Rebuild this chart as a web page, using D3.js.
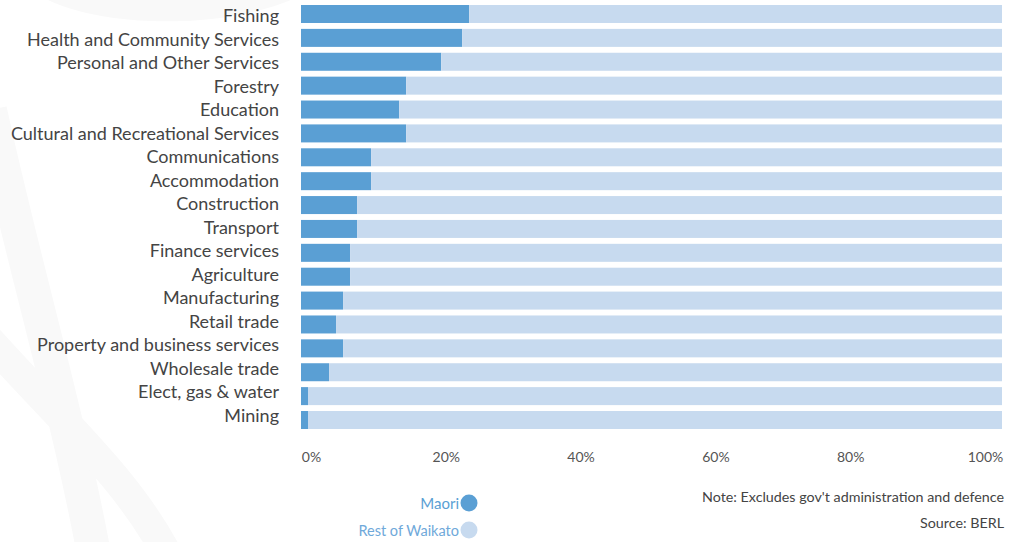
<!DOCTYPE html>
<html><head><meta charset="utf-8">
<script src="https://cdn.jsdelivr.net/npm/d3@7"></script>
<style>
html,body{margin:0;padding:0;background:#fff;}
svg{display:block;font-family:Lato, "Open Sans", sans-serif;}
</style></head>
<body>
<svg id="chart" width="1020" height="542"></svg>
<script>
const categories = ["Fishing","Health and Community Services","Personal and Other Services","Forestry","Education","Cultural and Recreational Services","Communications","Accommodation","Construction","Transport","Finance services","Agriculture","Manufacturing","Retail trade","Property and business services","Wholesale trade","Elect, gas & water","Mining"];
const maori = [24,23,20,15,14,15,10,10,8,8,7,7,6,5,6,4,1,1];
const restOfWaikato = maori.map(v => 100 - v);
const tickValues = [0,20,40,60,80,100];
const tickLabels = ["0%","20%","40%","60%","80%","100%"];
const seriesNames = ["Maori","Rest of Waikato"];
const noteText = "Note: Excludes gov't administration and defence";
const sourceText = "Source: BERL";

const colors = {Maori:"#5a9fd4", "Rest of Waikato":"#c7daef"};
const svg = d3.select("#chart");

// faint background swooshes
const bg = svg.append("g").attr("fill","none").attr("stroke","#f9f9f9");
bg.append("path").attr("stroke-width",22)
  .attr("d","M 20 -40 C 40 20, 250 30, 320 -30");
bg.append("path").attr("stroke-width",34)
  .attr("d","M -10 110 C 20 250, 70 420, 95 560");
bg.append("path").attr("stroke-width",30)
  .attr("d","M -20 330 C 60 420, 130 480, 170 560");

const x = d3.scaleLinear().domain([0,100]).range([301,1002]);
const y = d3.scaleBand().domain(categories).range([5,429]).paddingInner(0.2463).paddingOuter(0);
const labelY = d3.scalePoint().domain(categories).range([22,422]);

const data = categories.map((c,i)=>({cat:c, Maori:maori[i], "Rest of Waikato":restOfWaikato[i]}));
const stack = d3.stack().keys(seriesNames)(data);

svg.append("g").selectAll("g").data(stack).join("g")
  .attr("fill", d => colors[d.key])
  .selectAll("rect").data(d => d).join("rect")
  .attr("x", d => x(d[0]))
  .attr("width", d => x(d[1]) - x(d[0]))
  .attr("y", d => y(d.data.cat))
  .attr("height", y.bandwidth());

// category labels
svg.append("g").selectAll("text").data(categories).join("text")
  .attr("x", 279)
  .attr("y", d => labelY(d))
  .attr("text-anchor","end")
  .attr("font-size", 18)
  .attr("fill","#444")
  .text(d => d);

// tick labels (spread from first start to last end)
const tickX = d3.scaleLinear().domain([0,100]).range([311.5, 985.5]);
svg.append("g").selectAll("text").data(tickValues).join("text")
  .attr("x", d => tickX(d))
  .attr("y", 462)
  .attr("text-anchor","middle")
  .attr("font-size", 14)
  .attr("fill","#555")
  .text((d,i) => tickLabels[i]);

// legend
const leg = svg.append("g");
seriesNames.forEach((s,i) => {
  const cy = 503 + i*27;
  leg.append("circle").attr("cx",469).attr("cy",cy).attr("r",8.5).attr("fill",colors[s]);
  leg.append("text").attr("x",459).attr("y",cy+6).attr("text-anchor","end")
    .attr("font-size", i===0 ? 15 : 14.5).attr("fill", i===0 ? "#5a9fd4" : "#6fa9da").text(s);
});

// notes
svg.append("text").attr("x",1004).attr("y",502).attr("text-anchor","end")
  .attr("font-size",14.3).attr("fill","#444").text(noteText);
svg.append("text").attr("x",1004).attr("y",528).attr("text-anchor","end")
  .attr("font-size",14.3).attr("fill","#444").text(sourceText);
</script>
</body></html>
